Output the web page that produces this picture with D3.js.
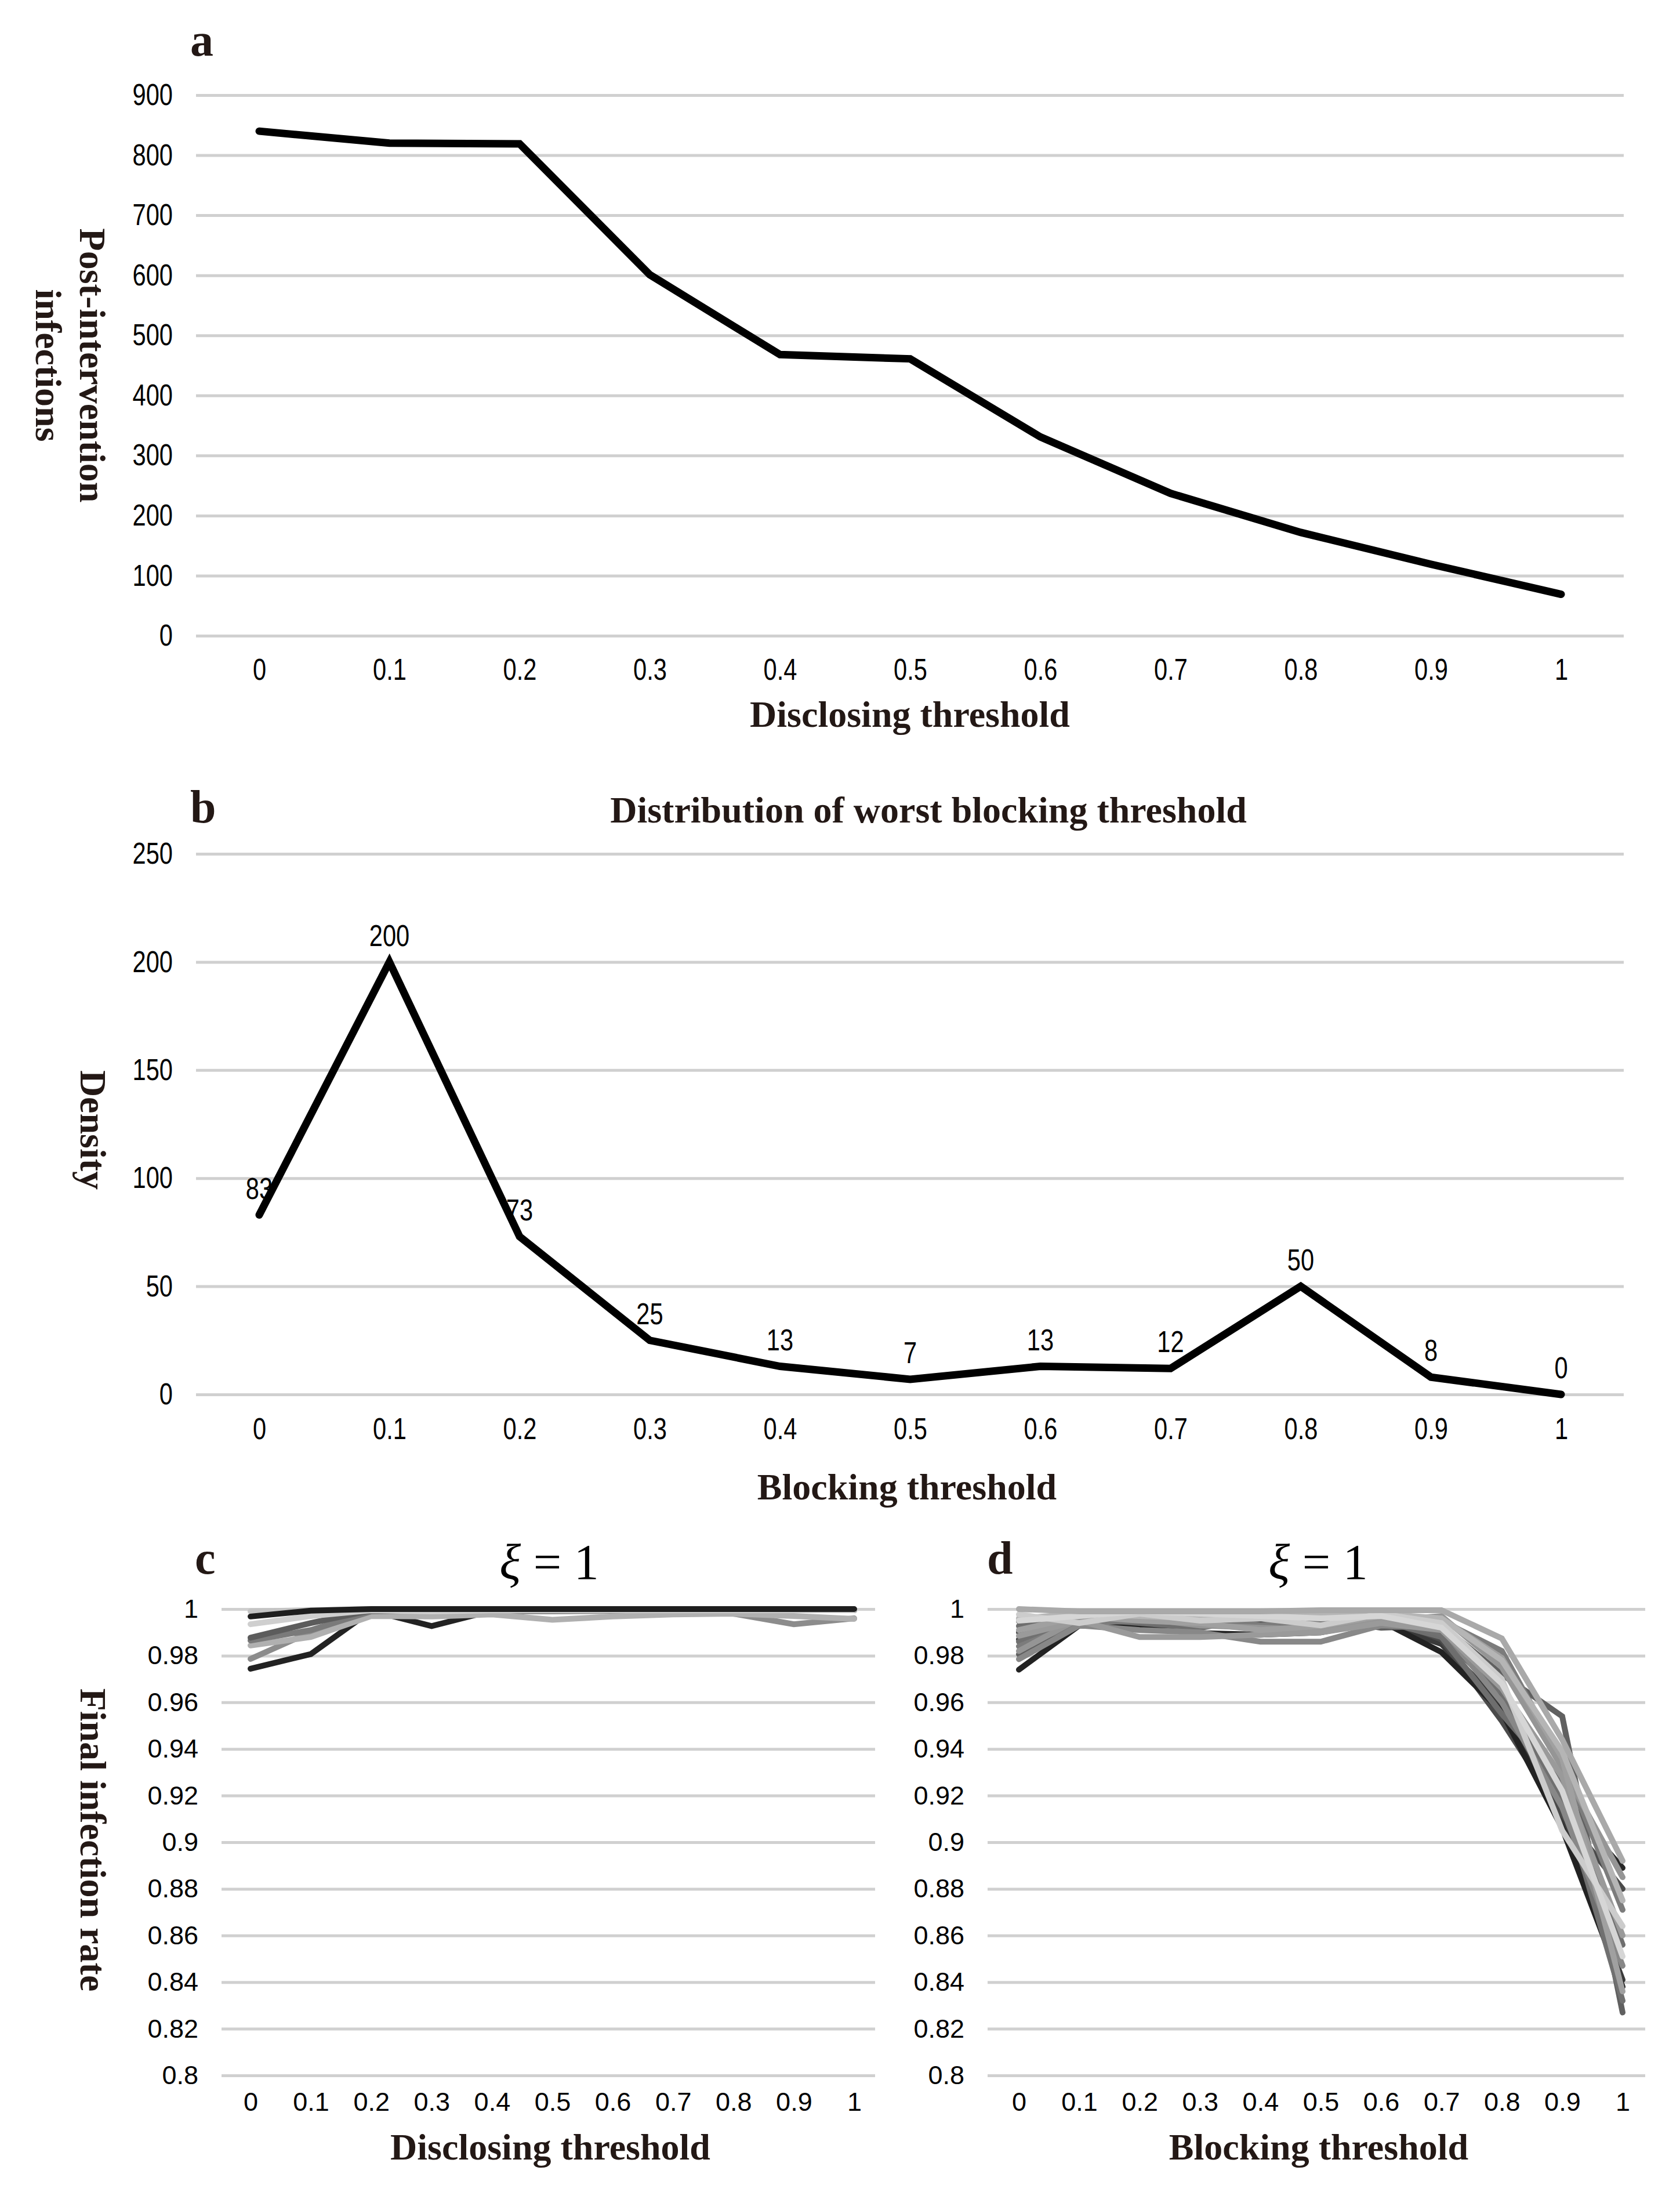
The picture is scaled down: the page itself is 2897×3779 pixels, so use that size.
<!DOCTYPE html>
<html>
<head>
<meta charset="utf-8">
<script src="https://cdn.jsdelivr.net/npm/d3@7"></script>
<style>
  body { margin: 0; background: #fff; }
  .title { font-family: "Liberation Serif", "Times New Roman", serif; font-weight: bold; fill: #231815; }
  .narrow text { font-family: "Liberation Sans Narrow", "Arial Narrow", "Liberation Sans", sans-serif; fill: #000; }
  .wide text { font-family: "Liberation Sans", Arial, sans-serif; fill: #000; }
</style>
</head>
<body>
<div id="chart"></div>
<script>
// categories shared by every panel
const thresholds = ["0", "0.1", "0.2", "0.3", "0.4", "0.5", "0.6", "0.7", "0.8", "0.9", "1"];

// panel a: post-intervention infections
const infections = [840, 820, 819, 601, 468, 461, 331, 237, 172, 119, 69];
const infectionTicks = [0, 100, 200, 300, 400, 500, 600, 700, 800, 900];

// panel b: distribution of worst blocking threshold
const density = [83, 200, 73, 25, 13, 7, 13, 12, 50, 8, 0];
const densityTicks = [0, 50, 100, 150, 200, 250];

// panels c and d: final infection rate
const rateTicks = [0.8, 0.82, 0.84, 0.86, 0.88, 0.9, 0.92, 0.94, 0.96, 0.98, 1];

const discloseRuns = [
    [0.9744, 0.9807, 0.9993, 0.9927, 0.9993, 0.9995, 0.9995, 0.9995, 0.9995, 0.9995, 0.9995],
    [0.9786, 0.9902, 0.9992, 0.9985, 0.9990, 0.9990, 0.9992, 0.9993, 0.9980, 0.9935, 0.9960],
    [0.9844, 0.9880, 0.9970, 0.9968, 0.9977, 0.9954, 0.9968, 0.9977, 0.9980, 0.9970, 0.9958],
    [0.9865, 0.9910, 0.9990, 0.9995, 0.9995, 0.9995, 0.9995, 0.9995, 0.9995, 0.9995, 0.9995],
    [0.9877, 0.9940, 0.9995, 0.9995, 0.9995, 0.9995, 0.9995, 0.9995, 0.9995, 0.9995, 0.9995],
    [0.9935, 0.9970, 0.9995, 0.9990, 0.9995, 0.9995, 0.9995, 0.9995, 0.9995, 0.9995, 0.9995],
    [0.9990, 0.9995, 1.0000, 0.9998, 0.9998, 0.9998, 0.9998, 0.9998, 0.9998, 0.9998, 0.9998],
    [0.9968, 0.9993, 1.0000, 1.0000, 1.0000, 1.0000, 1.0000, 1.0000, 1.0000, 1.0000, 1.0000]
];
const discloseColors = ["#222222", "#8c8c8c", "#b0b0b0", "#7a7a7a", "#5c5c5c", "#cfcfcf", "#c4c4c4", "#1e1e1e"];

// dark runs first so the lighter runs sit on top, as in the original
const blockRuns = [
    [0.9870, 0.9950, 0.9930, 0.9960, 0.9940, 0.9950, 0.9940, 0.9850, 0.9590, 0.9090, 0.8410],
    [0.9900, 0.9950, 0.9960, 0.9940, 0.9950, 0.9930, 0.9970, 0.9870, 0.9520, 0.9120, 0.8800],
    [0.9948, 0.9960, 0.9980, 0.9964, 0.9980, 0.9970, 0.9960, 0.9900, 0.9620, 0.9180, 0.8890],
    [0.9740, 0.9930, 0.9920, 0.9897, 0.9890, 0.9900, 0.9948, 0.9815, 0.9560, 0.9060, 0.8380],
    [0.9806, 0.9960, 0.9970, 0.9950, 0.9930, 0.9960, 0.9920, 0.9930, 0.9720, 0.9540, 0.8270],
    [0.9927, 0.9960, 0.9940, 0.9920, 0.9960, 0.9940, 0.9950, 0.9880, 0.9550, 0.9250, 0.8560],
    [0.9860, 0.9940, 0.9960, 0.9970, 0.9980, 0.9970, 0.9960, 0.9890, 0.9640, 0.9200, 0.8320],
    [0.9840, 0.9940, 0.9950, 0.9970, 0.9930, 0.9950, 0.9960, 0.9950, 0.9820, 0.9350, 0.8710],
    [0.9785, 0.9930, 0.9910, 0.9900, 0.9860, 0.9860, 0.9930, 0.9920, 0.9600, 0.9150, 0.8470],
    [0.9820, 0.9960, 0.9960, 0.9930, 0.9920, 0.9910, 0.9950, 0.9970, 0.9750, 0.9320, 0.8850],
    [0.9885, 0.9950, 0.9880, 0.9880, 0.9890, 0.9900, 0.9940, 0.9910, 0.9660, 0.9280, 0.8600],
    [0.9910, 0.9970, 0.9950, 0.9940, 0.9910, 0.9927, 0.9970, 0.9960, 0.9790, 0.9360, 0.8360],
    [0.9960, 0.9980, 0.9970, 0.9960, 0.9970, 0.9985, 0.9980, 0.9960, 0.9780, 0.9390, 0.8750],
    [0.9977, 0.9940, 0.9980, 0.9950, 0.9960, 0.9930, 0.9980, 0.9940, 0.9700, 0.9050, 0.8640],
    [0.9950, 0.9970, 0.9990, 0.9980, 0.9970, 0.9960, 0.9970, 0.9920, 0.9680, 0.9220, 0.8510],
    [1.0000, 0.9990, 0.9990, 0.9990, 0.9990, 0.9995, 0.9995, 0.9995, 0.9874, 0.9440, 0.8920]
];
const blockColors = ["#3a3a3a", "#4a4a4a", "#262626", "#222222", "#606060", "#6e6e6e", "#707070", "#7c7c7c",
    "#888888", "#959595", "#9a9a9a", "#a0a0a0", "#b5b5b5", "#cccccc", "#d6d6d6", "#a9a9a9"];

const width = 2897;
const height = 3779;
const squeeze = 0.8; // horizontal squeeze for the condensed numbers of panels a and b

const svg = d3.select("#chart").append("svg")
    .attr("width", width)
    .attr("height", height)
    .attr("viewBox", [0, 0, width, height]);

svg.append("rect").attr("width", width).attr("height", height).attr("fill", "#fff");

// draw horizontal grid + y labels as a left axis with negative tick size
function gridAxis(y, ticks, left, right, pad, cls, fontSize, fmt) {
    const g = svg.append("g")
        .attr("class", cls)
        .attr("transform", `translate(${left},0)`)
        .call(d3.axisLeft(y).tickValues(ticks).tickSize(-(right - left)).tickPadding(pad).tickFormat(fmt));
    g.select(".domain").remove();
    g.selectAll(".tick line").attr("stroke", "#d0d0d0").attr("stroke-width", 5);
    const t = g.selectAll(".tick text").attr("font-size", fontSize);
    if (cls === "narrow") t.attr("x", -pad / squeeze).attr("transform", `scale(${squeeze},1)`);
}

function bottomAxis(x, top, cls, fontSize) {
    const g = svg.append("g")
        .attr("class", cls)
        .attr("transform", `translate(0,${top})`)
        .call(d3.axisBottom(x).tickSize(0).tickPadding(0));
    g.select(".domain").remove();
    const t = g.selectAll(".tick text").attr("font-size", fontSize);
    if (cls === "narrow") t.attr("transform", `scale(${squeeze},1)`);
}

function label(text, x, y, size, rotate) {
    const t = svg.append("text")
        .attr("class", "title")
        .attr("font-size", size)
        .attr("text-anchor", "middle");
    if (rotate) {
        t.attr("transform", `translate(${x},${y}) rotate(90)`).attr("dominant-baseline", "central");
    } else {
        t.attr("x", x).attr("y", y);
    }
    t.text(text);
    return t;
}

function panelLetter(text, x, y) {
    svg.append("text").attr("class", "title")
        .attr("x", x).attr("y", y)
        .attr("font-size", 80)
        .text(text);
}

function xiTitle(cx, y) {
    const t = svg.append("text")
        .attr("x", cx).attr("y", y)
        .attr("text-anchor", "middle")
        .attr("font-family", "'Liberation Serif', 'DejaVu Serif', serif")
        .attr("font-size", 86)
        .attr("fill", "#000");
    t.append("tspan").attr("font-style", "italic").text("ξ");
    t.append("tspan").text(" = 1");
}

// ---------- panel a ----------
const xA = d3.scalePoint().domain(thresholds).range([447, 2692]);
const yA = d3.scaleLinear().domain([0, 900]).range([1096, 164]);

gridAxis(yA, infectionTicks, 338, 2800, 40, "narrow", 52, d => d);
bottomAxis(xA, 1135, "narrow", 52);

svg.append("path")
    .datum(infections)
    .attr("fill", "none")
    .attr("stroke", "#000")
    .attr("stroke-width", 13)
    .attr("stroke-linecap", "round")
    .attr("d", d3.line().x((d, i) => xA(thresholds[i])).y(d => yA(d)));

panelLetter("a", 328, 96);
label("Disclosing threshold", 1569, 1253, 64);
const yTitleA = svg.append("text")
    .attr("class", "title")
    .attr("font-size", 64)
    .attr("text-anchor", "middle")
    .attr("dominant-baseline", "central")
    .attr("transform", "translate(160,630) rotate(90)");
yTitleA.append("tspan").attr("x", 0).attr("y", 0).text("Post-intervention");
yTitleA.append("tspan").attr("x", 0).attr("y", 76).text("infections");

// ---------- panel b ----------
const xB = d3.scalePoint().domain(thresholds).range([447, 2692]);
const yB = d3.scaleLinear().domain([0, 250]).range([2404, 1472]);

gridAxis(yB, densityTicks, 338, 2800, 40, "narrow", 52, d => d);
bottomAxis(xB, 2444, "narrow", 52);

svg.append("path")
    .datum(density)
    .attr("fill", "none")
    .attr("stroke", "#000")
    .attr("stroke-width", 13)
    .attr("stroke-linecap", "round")
    .attr("d", d3.line().x((d, i) => xB(thresholds[i])).y(d => yB(d)));

svg.append("g").attr("class", "narrow")
    .selectAll("g")
    .data(density)
    .join("g")
    .attr("transform", (d, i) => `translate(${xB(thresholds[i])},${yB(d) - 46})`)
    .append("text")
    .attr("transform", `scale(${squeeze},1)`)
    .attr("text-anchor", "middle")
    .attr("dominant-baseline", "central")
    .attr("font-size", 52)
    .text(d => d);

panelLetter("b", 328, 1418);
label("Distribution of worst blocking threshold", 1601, 1418, 64);
label("Blocking threshold", 1564, 2585, 64);
label("Density", 160, 1948, 64, true);

// ---------- panels c and d ----------
const yRate = d3.scaleLinear().domain([0.8, 1]).range([3578, 2774]);
const fmtRate = d => +d.toFixed(2);

function ratePanel(runs, colors, x, left, right, pad) {
    gridAxis(yRate, rateTicks, left, right, pad, "wide", 45, fmtRate);
    bottomAxis(x, 3607, "wide", 45);
    const line = d3.line().x((d, i) => x(thresholds[i])).y(d => yRate(d));
    svg.append("g")
        .attr("fill", "none")
        .attr("stroke-width", 10)
        .attr("stroke-linecap", "round")
        .selectAll("path")
        .data(runs)
        .join("path")
        .attr("stroke", (d, i) => colors[i])
        .attr("d", line);
}

const xC = d3.scalePoint().domain(thresholds).range([432, 1473]);
ratePanel(discloseRuns, discloseColors, xC, 382, 1509, 40);
panelLetter("c", 336, 2713);
xiTitle(947, 2722);
label("Disclosing threshold", 949, 3723, 64);
label("Final infection rate", 160, 3172, 64, true);

const xD = d3.scalePoint().domain(thresholds).range([1757, 2798]);
ratePanel(blockRuns, blockColors, xD, 1703, 2837, 40);
panelLetter("d", 1702, 2713);
xiTitle(2273, 2722);
label("Blocking threshold", 2274, 3723, 64);
</script>
</body>
</html>
